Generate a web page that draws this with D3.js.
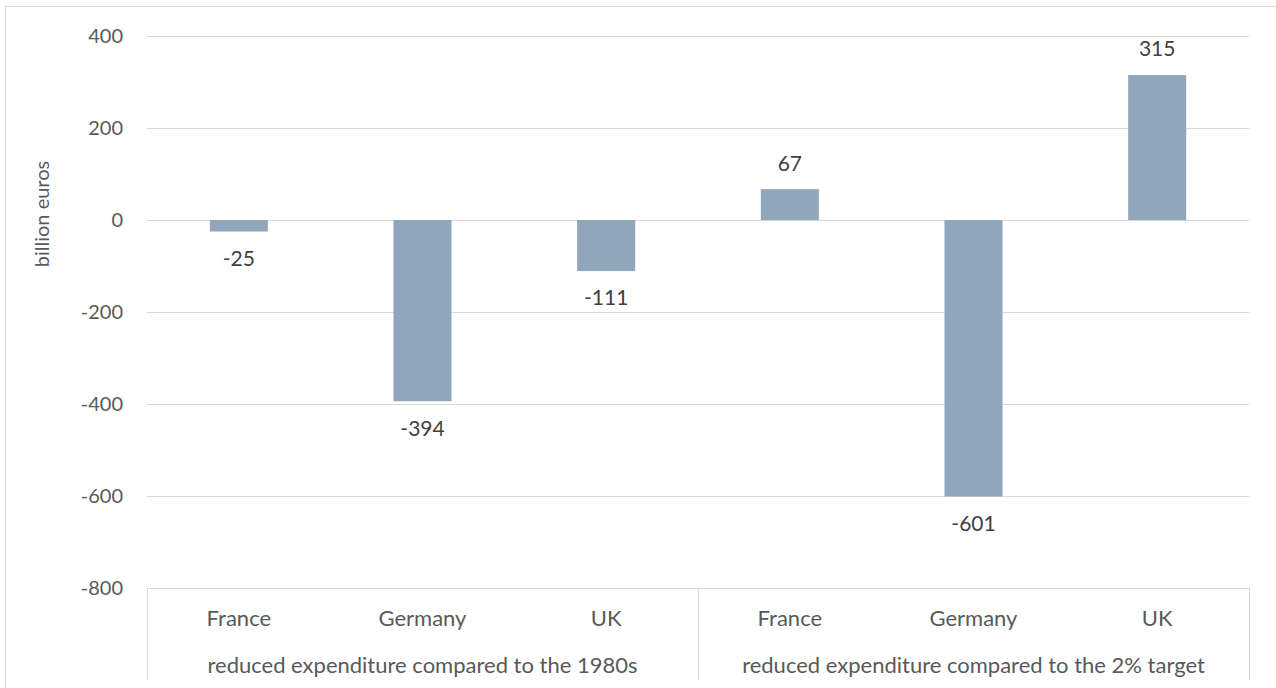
<!DOCTYPE html>
<head>
    <meta charset="utf-8">
    <title>Reduced expenditure</title>
    <style>
        body { margin: 0; background: #fff; }
        text { font-family: Lato, "Open Sans", sans-serif; }
    </style>
</head>
<body>
<svg width="1276" height="688"></svg>

<script src="https://d3js.org/d3.v7.min.js"></script>
<script>

    var countries = ["France", "Germany", "UK", "France", "Germany", "UK"];
    var groups = ["reduced expenditure compared to the 1980s",
                  "reduced expenditure compared to the 2% target"];
    var values = [-25, -394, -111, 67, -601, 315];
    var yTicks = [400, 200, 0, -200, -400, -600, -800];

    var svg = d3.select("svg"),
        margin = {top: 36, right: 27, bottom: 100, left: 147},
        width = 1276 - margin.left - margin.right,
        height = 688 - margin.top - margin.bottom;

    // chart border
    svg.append("rect")
        .attr("x", 5.5).attr("y", 6.5)
        .attr("width", 1280).attr("height", 700)
        .attr("fill", "none").attr("stroke", "#d9d9d9");

    var x = d3.scaleBand()
        .domain(d3.range(values.length))
        .range([0, width])
        .paddingInner(0.684)
        .paddingOuter(0.342);

    var y = d3.scaleLinear().domain([-800, 400]).range([552, 0]);

    var g = svg.append("g")
        .attr("transform", "translate(" + margin.left + "," + margin.top + ")");

    // gridlines + tick labels (plain hyphen for negatives)
    var yAxis = g.append("g")
        .call(d3.axisLeft(y).tickValues(yTicks).tickSize(-width).tickPadding(24)
            .tickFormat(function(d) { return String(d); }));
    yAxis.select(".domain").remove();
    yAxis.selectAll(".tick line").attr("stroke", "#d9d9d9");
    yAxis.selectAll(".tick text")
        .attr("fill", "#595959")
        .style("font-size", "20px");

    // bars
    g.selectAll(".bar")
        .data(values)
        .enter().append("rect")
        .attr("class", "bar")
        .attr("x", function(d, i) { return x(i); })
        .attr("width", x.bandwidth())
        .attr("y", function(d) { return y(Math.max(0, d)); })
        .attr("height", function(d) { return Math.abs(y(d) - y(0)); })
        .attr("fill", "#8fa6bb");

    // value labels
    g.selectAll(".val")
        .data(values)
        .enter().append("text")
        .attr("class", "val")
        .attr("x", function(d, i) { return x(i) + x.bandwidth() / 2; })
        .attr("y", function(d) { return d >= 0 ? y(d) - 26 : y(d) + 27; })
        .attr("dy", "0.35em")
        .attr("text-anchor", "middle")
        .attr("fill", "#404040")
        .style("font-size", "21px")
        .text(function(d) { return d; });

    // category axis: box lines
    var step = x.step();
    var catAxis = g.append("g").attr("transform", "translate(0," + height + ")");
    catAxis.append("line")
        .attr("x1", 0).attr("x2", width)
        .attr("y1", 0.5).attr("y2", 0.5)
        .attr("stroke", "#d9d9d9");
    [0, 3, 6].forEach(function(k) {
        var xx = Math.round(k * step) + 0.5;
        catAxis.append("line")
            .attr("x1", xx).attr("x2", xx)
            .attr("y1", 0).attr("y2", 92)
            .attr("stroke", "#d9d9d9");
    });

    catAxis.selectAll(".country")
        .data(countries)
        .enter().append("text")
        .attr("x", function(d, i) { return x(i) + x.bandwidth() / 2; })
        .attr("y", 30)
        .attr("dy", "0.35em")
        .attr("text-anchor", "middle")
        .attr("fill", "#595959")
        .style("font-size", "22px")
        .text(function(d) { return d; });

    catAxis.selectAll(".group")
        .data(groups)
        .enter().append("text")
        .attr("x", function(d, i) { return (i * 3 + 1.5) * step; })
        .attr("y", 77)
        .attr("dy", "0.35em")
        .attr("text-anchor", "middle")
        .attr("fill", "#595959")
        .style("font-size", "22px")
        .text(function(d) { return d; });

    // y title
    svg.append("text")
        .attr("transform", "translate(42,214) rotate(-90)")
        .attr("dy", "0.35em")
        .attr("text-anchor", "middle")
        .attr("fill", "#595959")
        .style("font-size", "20px")
        .text("billion euros");

</script>
</body>
